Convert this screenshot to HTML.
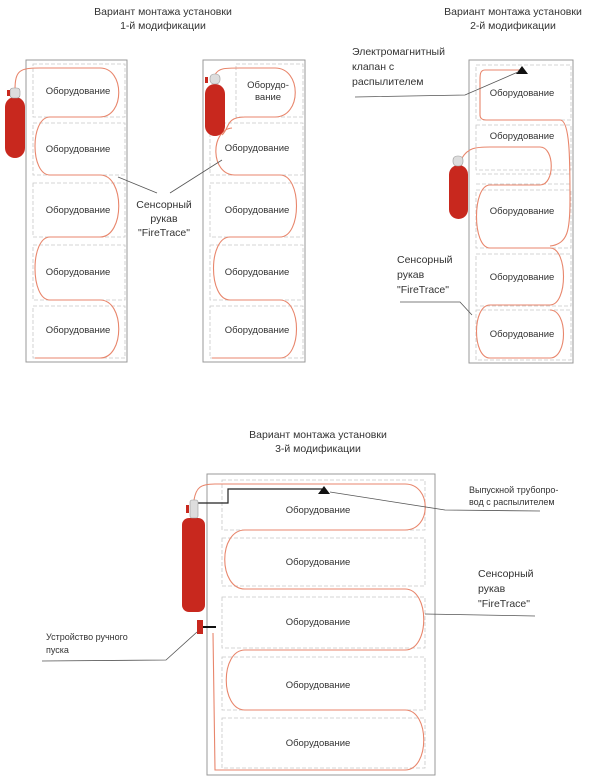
<!DOCTYPE html>
<html><head><meta charset="utf-8"><style>
html,body{margin:0;padding:0;background:#fff;}
svg{display:block;}
text{font-family:"Liberation Sans",sans-serif;fill:#333;}
.t{font-size:10.5px;}
.eq{font-size:9.5px;text-anchor:middle;}
.o{fill:none;stroke:#999;stroke-width:1;}
.i{fill:none;stroke:#c8c8c8;stroke-width:0.8;stroke-dasharray:4 2;}
.h{fill:none;stroke:#e8866c;stroke-width:1.1;}
.l{fill:none;stroke:#555;stroke-width:0.8;}
.c{fill:#c8281e;}
</style></head><body>
<svg width="600" height="779" viewBox="0 0 600 779" xmlns="http://www.w3.org/2000/svg">
<!-- Titles -->
<text class="t" x="163" y="15" text-anchor="middle">Вариант монтажа установки</text>
<text class="t" x="163" y="29" text-anchor="middle">1-й модификации</text>
<text class="t" x="513" y="15" text-anchor="middle">Вариант монтажа установки</text>
<text class="t" x="513" y="29" text-anchor="middle">2-й модификации</text>
<text class="t" x="318" y="438" text-anchor="middle">Вариант монтажа установки</text>
<text class="t" x="318" y="452" text-anchor="middle">3-й модификации</text>

<!-- Diagram 1a -->
<rect class="o" x="26" y="60" width="101" height="302"/>
<g class="i">
<rect x="33" y="64" width="92" height="53"/><rect x="33" y="123" width="92" height="52"/>
<rect x="33" y="183" width="92" height="54"/><rect x="33" y="245" width="92" height="55"/>
<rect x="33" y="306" width="92" height="52"/>
</g>
<path class="h" d="M15,90 C15,70 20,68 40,68 L100,68 C125,68 125,117 100,117 L50,117 C30,117 30,175 50,175 L100,175 C125,175 125,237 100,237 L50,237 C30,237 30,300 50,300 L100,300 C125,300 125,358 100,358 L35,358"/>
<rect class="c" x="5" y="97" width="20" height="61" rx="10"/>
<rect x="10" y="88" width="10" height="10" rx="3" fill="#ddd" stroke="#999" stroke-width="0.6"/>
<rect x="7" y="90" width="3" height="6" fill="#c8281e"/>
<g class="eq">
<text x="78" y="94">Оборудование</text><text x="78" y="152">Оборудование</text>
<text x="78" y="213">Оборудование</text><text x="78" y="275">Оборудование</text>
<text x="78" y="333">Оборудование</text>
</g>

<!-- Diagram 1b -->
<rect class="o" x="203" y="60" width="102" height="302"/>
<g class="i">
<rect x="236" y="64" width="67" height="53"/><rect x="210" y="123" width="93" height="52"/>
<rect x="210" y="183" width="93" height="54"/><rect x="210" y="245" width="93" height="55"/>
<rect x="210" y="306" width="93" height="52"/>
</g>
<path class="h" d="M215,75 C218,68 225,68 240,68 L275,68 C302,68 302,117 275,117 L245,117 C225,117 230,128 222,135 M232,128 C210,130 210,175 235,175 L280,175 C302,175 302,237 280,237 L230,237 C208,237 208,300 230,300 L280,300 C302,300 302,358 280,358 L212,358"/>
<rect class="c" x="205" y="84" width="20" height="52" rx="10"/>
<rect x="210" y="74" width="10" height="10" rx="4" fill="#ddd" stroke="#999" stroke-width="0.6"/>
<rect x="205" y="77" width="3" height="6" fill="#c8281e"/>
<g class="eq">
<text x="268" y="88">Оборудо-</text><text x="268" y="100">вание</text>
<text x="257" y="151">Оборудование</text>
<text x="257" y="213">Оборудование</text><text x="257" y="275">Оборудование</text>
<text x="257" y="333">Оборудование</text>
</g>
<path class="l" d="M118,177 L157,193 M170,193 L222,160"/>
<text class="t" x="164" y="208" text-anchor="middle">Сенсорный</text>
<text class="t" x="164" y="222" text-anchor="middle">рукав</text>
<text class="t" x="164" y="236" text-anchor="middle">"FireTrace"</text>

<!-- Diagram 2 -->
<rect class="o" x="469" y="60" width="104" height="303"/>
<g class="i">
<rect x="476" y="65" width="95" height="55"/><rect x="476" y="125" width="95" height="45"/>
<line x1="476" y1="174" x2="571" y2="174"/><line x1="476" y1="184" x2="571" y2="184"/>
<rect x="476" y="190" width="95" height="58"/><rect x="476" y="254" width="95" height="52"/>
<rect x="476" y="310" width="95" height="50"/>
</g>
<path class="h" d="M520,70 L485,70 C480,70 480,75 480,80 L480,115 C480,118 482,120 486,120 L560,120 C570,120 570,160 570,200 C570,230 568,244 550,246 M462,158 C468,148 475,147 490,147 L540,147 C555,147 555,185 540,185 L490,185 C472,185 472,248 490,248 L550,248 C568,248 568,305 550,305 L490,305 C472,305 472,358 490,358 L550,358 C568,358 568,310 550,310"/>
<rect class="c" x="449" y="165" width="19" height="54" rx="9.5"/>
<rect x="453" y="156" width="10" height="10" rx="4" fill="#ddd" stroke="#999" stroke-width="0.6"/>
<polygon points="516,74 522,66 528,74" fill="#111"/>
<g class="eq">
<text x="522" y="96">Оборудование</text><text x="522" y="139">Оборудование</text>
<text x="522" y="214">Оборудование</text><text x="522" y="280">Оборудование</text>
<text x="522" y="337">Оборудование</text>
</g>
<text class="t" x="352" y="55">Электромагнитный</text>
<text class="t" x="352" y="70">клапан с</text>
<text class="t" x="352" y="85">распылителем</text>
<path class="l" d="M355,97 L465,95 L518,72"/>
<text class="t" x="397" y="263">Сенсорный</text>
<text class="t" x="397" y="278">рукав</text>
<text class="t" x="397" y="293">"FireTrace"</text>
<path class="l" d="M400,302 L460,302 L472,315"/>

<!-- Diagram 3 -->
<rect class="o" x="207" y="474" width="228" height="301"/>
<g class="i">
<rect x="222" y="480" width="203" height="50"/><rect x="222" y="538" width="203" height="48"/>
<rect x="222" y="597" width="203" height="51"/><rect x="222" y="657" width="203" height="53"/>
<rect x="222" y="718" width="203" height="50"/>
</g>
<path class="h" d="M194,500 C196,488 200,484 215,484 L405,484 C432,484 432,530 405,530 L245,530 C218,530 218,589 245,589 L405,589 C430,589 430,650 405,650 L245,650 C220,650 220,710 245,710 L405,710 C430,710 430,770 405,770 L215,770 L213,633"/>
<path d="M197,503 L228,503 L228,489 L322,489" fill="none" stroke="#222" stroke-width="1.2"/>
<polygon points="318,494 324,486 330,494" fill="#111"/>
<rect class="c" x="182" y="518" width="23" height="94" rx="7"/>
<rect x="190" y="500" width="8" height="18" rx="2" fill="#ddd" stroke="#999" stroke-width="0.6"/>
<rect x="186" y="505" width="3" height="8" fill="#c8281e"/>
<rect x="197" y="620" width="6" height="14" fill="#c8281e"/>
<line x1="203" y1="627" x2="216" y2="627" stroke="#111" stroke-width="2"/>
<g class="eq">
<text x="318" y="513">Оборудование</text><text x="318" y="565">Оборудование</text>
<text x="318" y="625">Оборудование</text><text x="318" y="688">Оборудование</text>
<text x="318" y="746">Оборудование</text>
</g>
<text x="469" y="493" style="font-size:9px">Выпускной трубопро-</text>
<text x="469" y="505" style="font-size:9px">вод с распылителем</text>
<path class="l" d="M330,492 L445,510 L540,511"/>
<text class="t" x="478" y="577">Сенсорный</text>
<text class="t" x="478" y="592">рукав</text>
<text class="t" x="478" y="607">"FireTrace"</text>
<path class="l" d="M425,614 L535,616"/>
<text x="46" y="640" style="font-size:9px">Устройство ручного</text>
<text x="46" y="653" style="font-size:9px">пуска</text>
<path class="l" d="M42,661 L166,660 L197,632"/>
</svg>
</body></html>
